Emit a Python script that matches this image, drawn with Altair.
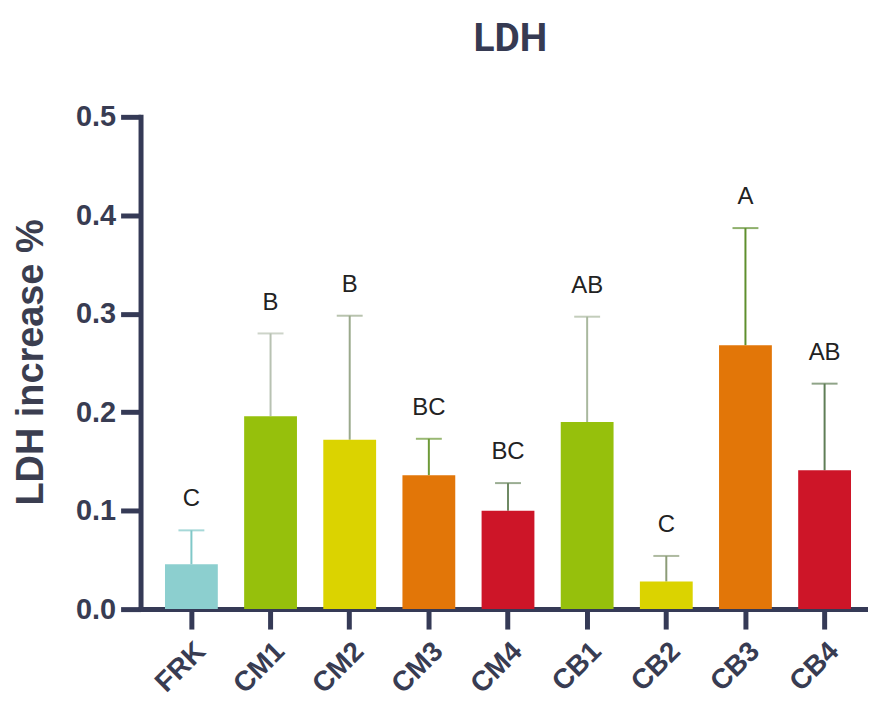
import altair as alt
import pandas as pd

categories = ["FRK", "CM1", "CM2", "CM3", "CM4", "CB1", "CB2", "CB3", "CB4"]
means = [0.0455, 0.196, 0.172, 0.136, 0.100, 0.190, 0.028, 0.268, 0.141]
upper = [0.080, 0.280, 0.298, 0.173, 0.128, 0.297, 0.054, 0.387, 0.229]
letters = ["C", "B", "B", "BC", "BC", "AB", "C", "A", "AB"]
bar_colors = ["#8ccfcf", "#96c00c", "#dbd300", "#e27608", "#cd1528",
              "#96c00c", "#dbd300", "#e27608", "#cd1528"]
err_colors = ["#80c8c8", "#b8c2b2", "#9aa98c", "#6e9a38", "#6f8a64",
              "#a9b89e", "#8c9c78", "#5f8f2d", "#5f7d56"]
chart_title = "LDH"

df = pd.DataFrame({
    "cat": categories,
    "mean": means,
    "upper": upper,
    "letter": letters,
    "ecat": [c + "_e" for c in categories],
})
title_df = pd.DataFrame({"t": [chart_title]})

axis_col = "#353a56"
label_col = "#383c52"

xscale = alt.Scale(domain=categories, paddingInner=0.333, paddingOuter=0.262, align=0.59)
yscale = alt.Scale(domain=[0, 0.5], nice=False, zero=True)

x = alt.X("cat:N", scale=xscale, sort=categories,
          axis=alt.Axis(title=None, labelAngle=-45, labelAlign="right", labelBaseline="top",
                        labelFontSize=28, labelFontWeight="bold", labelColor=label_col,
                        labelFont="Liberation Sans", labelPadding=8,
                        domainColor=axis_col, domainWidth=5, tickColor=axis_col,
                        tickWidth=5, tickSize=20, domainCap="square"))
y = alt.Y("mean:Q", scale=yscale,
          axis=alt.Axis(title="LDH increase %", values=[0, 0.1, 0.2, 0.3, 0.4, 0.5],
                        format=".1f", labelFontSize=29, labelFontWeight="bold",
                        labelColor=label_col, labelFont="Liberation Sans", labelPadding=5,
                        domainColor=axis_col, domainWidth=5, tickColor=axis_col,
                        tickWidth=5, tickSize=20, grid=False, domainCap="square",
                        titleFont="Liberation Sans", titleFontSize=38, titleFontWeight="bold",
                        titleColor="#3b3e50", titleAngle=-90, titleX=-109, titleY=246,
                        titleAlign="center", titleBaseline="middle"))

base = alt.Chart(df)

bars = base.mark_bar(size=53).encode(
    x=x,
    y=y,
    color=alt.Color("cat:N", scale=alt.Scale(domain=categories, range=bar_colors), legend=None),
)

ecolor = alt.Color("ecat:N", scale=alt.Scale(domain=[c + "_e" for c in categories], range=err_colors), legend=None)

err_rule = base.mark_rule(strokeWidth=2).encode(
    x=alt.X("cat:N", scale=xscale, sort=categories),
    y=alt.Y("mean:Q", scale=yscale),
    y2="upper:Q",
    color=ecolor,
)

err_cap = base.mark_tick(thickness=2, size=26).encode(
    x=alt.X("cat:N", scale=xscale, sort=categories),
    y=alt.Y("upper:Q", scale=yscale),
    color=ecolor,
)

txt = base.mark_text(fontSize=24, font="Liberation Sans", color="#222222",
                     baseline="alphabetic", dy=-24).encode(
    x=alt.X("cat:N", scale=xscale, sort=categories),
    y=alt.Y("upper:Q", scale=yscale),
    text="letter:N",
)

title_txt = alt.Chart(title_df).mark_text(
    fontSize=39, font="Roboto", fontWeight="bold", color="#363a52",
    align="center", baseline="alphabetic", clip=False,
).encode(
    x=alt.value(371),
    y=alt.value(-66),
    text="t:N",
)

chart = alt.layer(err_rule, err_cap, bars, txt, title_txt).resolve_scale(color="independent").properties(
    width=730,
    height=494,
    autosize=alt.AutoSizeParams(type="none"),
    padding={"left": 133, "top": 108, "right": 0, "bottom": 93},
    background="white",
).configure_view(stroke=None)

chart.save("out.html", embed_options={"renderer": "svg", "actions": False})
